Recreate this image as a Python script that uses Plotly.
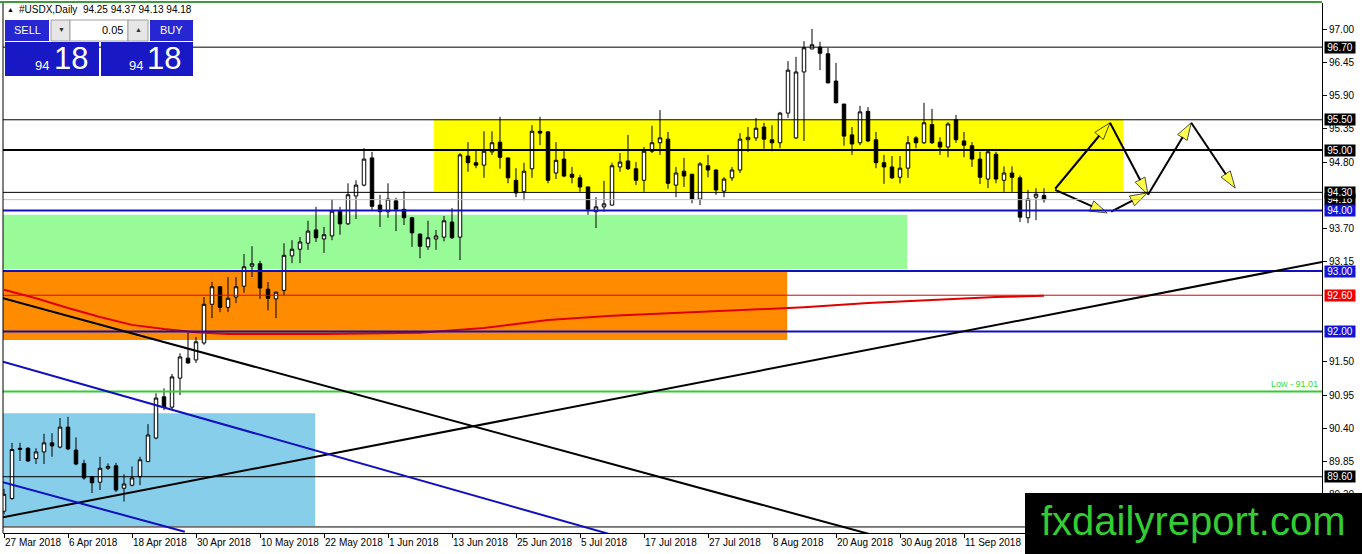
import plotly.graph_objects as go
import pandas as pd

# ---------------- data ----------------
dates = pd.bdate_range("2018-03-27", periods=131)

opens = [
    89.03, 89.24, 90.05, 90.07, 89.90, 90.01, 90.16, 90.09, 90.42, 90.04,
    89.82, 89.60, 89.51, 89.74, 89.78, 89.41, 89.46, 89.60, 89.85, 90.24,
    90.92, 90.75, 91.23, 91.56, 91.53, 91.81, 92.45, 92.74, 92.40, 92.57,
    92.75, 93.08, 93.12, 92.70, 92.54, 92.68, 93.25, 93.36, 93.46, 93.68,
    93.53, 93.58, 93.99, 93.78, 94.24, 94.42, 94.87, 94.09, 93.98, 94.16,
    94.02, 93.88, 93.61, 93.40, 93.53, 93.56, 93.81, 93.56, 94.90, 94.79,
    94.75, 94.97, 95.13, 94.87, 94.50, 94.31, 94.69, 95.31, 95.30, 94.62,
    94.85, 94.60, 94.54, 94.39, 93.98, 94.06, 94.09, 94.72, 94.82, 94.69,
    94.50, 94.98, 95.12, 95.18, 94.42, 94.65, 94.60, 94.19, 94.74, 94.67,
    94.32, 94.54, 94.67, 95.17, 95.20, 95.38, 95.17, 95.12, 95.61, 95.20,
    96.29, 96.67, 96.70, 96.59, 96.14, 95.76, 95.25, 95.12, 95.64, 95.17,
    94.79, 94.72, 94.55, 94.70, 95.20, 95.12, 95.42, 95.13, 95.05, 95.50,
    95.15, 95.07, 94.85, 94.52, 94.93, 94.50, 94.62, 94.54, 93.88, 94.22,
    94.25]
highs = [
    89.40, 90.16, 90.16, 90.09, 90.07, 90.31, 90.32, 90.57, 90.59, 90.25,
    89.88, 89.61, 89.93, 89.82, 89.83, 89.64, 89.77, 89.93, 90.47, 90.98,
    91.06, 91.30, 91.64, 91.98, 91.91, 92.57, 92.82, 92.75, 92.90, 92.90,
    93.28, 93.41, 93.17, 92.82, 92.66, 93.46, 93.51, 93.56, 93.83, 94.06,
    93.73, 94.19, 94.06, 94.45, 94.50, 95.03, 94.97, 94.26, 94.45, 94.21,
    94.32, 93.89, 93.62, 93.83, 93.68, 93.91, 94.04, 94.95, 95.13, 95.00,
    95.31, 95.31, 95.55, 94.87, 94.70, 94.79, 95.41, 95.55, 95.31, 95.13,
    94.98, 94.72, 94.59, 94.39, 94.22, 94.49, 94.79, 94.95, 95.25, 94.80,
    95.05, 95.40, 95.66, 95.30, 94.72, 94.87, 94.60, 94.80, 94.92, 94.68,
    94.55, 94.72, 95.28, 95.38, 95.53, 95.45, 95.41, 95.63, 96.47, 96.54,
    96.80, 97.00, 96.79, 96.69, 96.44, 95.76, 95.38, 95.73, 95.71, 95.30,
    94.92, 94.90, 94.90, 95.23, 95.23, 95.78, 95.68, 95.21, 95.46, 95.58,
    95.30, 95.13, 94.97, 94.98, 94.97, 94.73, 94.73, 94.58, 94.34, 94.37,
    94.37]
lows = [
    88.98, 89.22, 89.86, 89.85, 89.81, 89.81, 89.93, 90.07, 90.04, 89.79,
    89.55, 89.33, 89.38, 89.71, 89.35, 89.19, 89.44, 89.46, 89.85, 90.22,
    90.70, 90.70, 90.95, 91.47, 91.48, 91.78, 92.22, 92.32, 92.32, 92.47,
    92.64, 92.90, 92.54, 92.35, 92.22, 92.60, 93.13, 93.13, 93.35, 93.48,
    93.30, 93.51, 93.60, 93.76, 93.86, 94.40, 94.01, 93.73, 93.88, 93.66,
    93.76, 93.40, 93.21, 93.35, 93.35, 93.49, 93.53, 93.18, 94.64, 94.70,
    94.54, 94.92, 94.69, 94.45, 94.22, 94.17, 94.54, 95.08, 94.45, 94.52,
    94.55, 94.45, 94.31, 93.93, 93.71, 93.98, 94.08, 94.64, 94.67, 94.42,
    94.31, 94.95, 94.92, 94.36, 94.22, 94.39, 94.12, 94.09, 94.55, 94.26,
    94.22, 94.49, 94.62, 94.97, 95.15, 95.02, 94.98, 95.03, 95.53, 95.18,
    95.15, 96.67, 96.32, 96.10, 95.78, 95.07, 94.92, 95.08, 95.13, 94.70,
    94.44, 94.52, 94.45, 94.54, 95.03, 95.10, 95.10, 94.92, 94.88, 95.12,
    94.88, 94.72, 94.44, 94.37, 94.45, 94.31, 94.31, 93.81, 93.79, 93.84,
    94.13]
closes = [
    89.31, 90.05, 90.07, 89.86, 90.01, 90.16, 90.11, 90.42, 90.06, 89.81,
    89.58, 89.50, 89.74, 89.77, 89.38, 89.48, 89.58, 89.88, 90.29, 90.90,
    90.75, 91.25, 91.58, 91.48, 91.83, 92.45, 92.74, 92.40, 92.55, 92.74,
    93.07, 93.12, 92.72, 92.55, 92.65, 93.26, 93.36, 93.48, 93.66, 93.55,
    93.60, 93.99, 93.78, 94.26, 94.42, 94.85, 94.07, 93.98, 94.19, 94.02,
    93.88, 93.63, 93.41, 93.55, 93.58, 93.83, 93.55, 94.92, 94.79, 94.75,
    94.98, 95.12, 94.88, 94.54, 94.29, 94.65, 95.31, 95.28, 94.50, 94.83,
    94.57, 94.55, 94.39, 94.02, 94.06, 94.11, 94.74, 94.80, 94.69, 94.50,
    94.98, 95.12, 95.20, 94.45, 94.62, 94.57, 94.19, 94.77, 94.67, 94.34,
    94.52, 94.67, 95.18, 95.21, 95.36, 95.18, 95.12, 95.61, 96.32, 96.29,
    96.69, 96.74, 96.60, 96.11, 95.78, 95.23, 95.10, 95.63, 95.15, 94.79,
    94.72, 94.54, 94.70, 95.12, 95.12, 95.45, 95.12, 95.05, 95.43, 95.17,
    95.08, 94.85, 94.55, 94.97, 94.52, 94.62, 94.55, 93.89, 94.19, 94.27,
    94.18]
bar_index = list(range(len(opens)))

tick_bars = [0, 8, 16, 24, 32, 40, 48, 56, 64, 72, 80, 88, 96, 104, 112, 120]
tick_labels = ["27 Mar 2018", "6 Apr 2018", "18 Apr 2018", "30 Apr 2018",
               "10 May 2018", "22 May 2018", "1 Jun 2018", "13 Jun 2018",
               "25 Jun 2018", "5 Jul 2018", "17 Jul 2018", "27 Jul 2018",
               "8 Aug 2018", "20 Aug 2018", "30 Aug 2018", "11 Sep 2018"]
# price scale (94.25, 92.60 and 92.05 are hidden under the level labels)
price_ticks = [97.00, 96.45, 95.90, 95.35, 94.80, 93.70, 93.15,
               91.50, 90.95, 90.40, 89.85, 89.30]

# moving average (red) sampled along the chart
ma_bars = [0, 4, 8, 12, 16, 20, 24, 28, 40, 52, 60, 68, 76, 84, 92, 100, 108, 116, 124, 130]
ma_values = [92.69, 92.55, 92.39, 92.24, 92.11, 92.04, 91.99, 91.96, 91.96, 91.98,
             92.06, 92.19, 92.26, 92.31, 92.36, 92.40, 92.47, 92.52, 92.57, 92.59]

# horizontal levels
level_prices = [96.70, 95.50, 95.00, 94.30, 94.18, 94.00, 93.00, 92.60, 92.00, 91.01, 89.60, 88.77]
low_label = "Low - 91.01"

# zones (rectangles)
zone_x0 = [-1, -1, -1, 53.75]
zone_x1 = [38.9, 97.9, 112.9, 139.9]
zone_low = [88.785, 91.86, 93.03, 94.32]
zone_high = [90.65, 93.00, 93.93, 95.50]

# trend lines
trend_x0 = [-0.125, -0.125, -0.125, -0.125]
trend_y0 = [88.93, 92.55, 91.50, 89.51]
trend_x1 = [164.75, 108.25, 75.75, 22.6]
trend_y1 = [93.15, 88.65, 88.65, 88.69]

# projection arrows
arrow_x0 = [131.4, 138.25, 143.0, 148.4, 131.4, 138.4]
arrow_y0 = [94.36, 95.45, 94.26, 95.45, 94.34, 93.98]
arrow_x1 = [138.25, 143.0, 148.4, 153.9, 137.9, 142.9]
arrow_y1 = [95.45, 94.26, 95.45, 94.37, 93.96, 94.29]

header = "#USDX,Daily  94.25 94.37 94.13 94.18"

# ---------------- styles ----------------
FONT = "Liberation Sans, DejaVu Sans, Arial"
BLUE = "#1010c0"
LBLUE = "#1414d8"
level_style = {
    96.70: ("black", 1), 95.50: ("black", 1), 95.00: ("black", 2), 94.30: ("black", 1),
    94.18: ("#c0c0c0", 1), 94.00: (BLUE, 2), 93.00: (BLUE, 2), 92.60: ("#e00000", 1),
    92.00: (BLUE, 2), 91.01: ("#33cc33", 2), 89.60: ("black", 1), 88.77: ("black", 1),
}
zone_colors = ["#87ceeb", "#ff8c00", "#98fb98", "#ffff00"]
trend_colors = ["black", "black", BLUE, BLUE]
label_order = [(96.70, "black"), (95.50, "black"), (95.00, "black"), (94.18, "black"),
               (94.30, "black"), (94.00, LBLUE), (93.00, LBLUE), (92.60, "#ee0000"),
               (92.00, LBLUE), (89.60, "black")]

W, H = 1362, 554
ML, MR, MT, MB = 3, 40, 3, 21
PW, PH = W - ML - MR, H - MT - MB


def px(x):
    return (x - ML) / PW


def py(y):
    return 1 - (y - MT) / PH


fig = go.Figure()

fig.add_trace(go.Candlestick(
    x=bar_index, open=opens, high=highs, low=lows, close=closes,
    increasing=dict(line=dict(color="black", width=1), fillcolor="white"),
    decreasing=dict(line=dict(color="black", width=1), fillcolor="black"),
    whiskerwidth=0, hoverinfo="skip", showlegend=False))

fig.add_trace(go.Scatter(x=ma_bars, y=ma_values, mode="lines",
                         line=dict(color="#e00000", width=2), hoverinfo="skip"))

for xa, ya, xb, yb in zip(arrow_x0, arrow_y0, arrow_x1, arrow_y1):
    fig.add_trace(go.Scatter(
        x=[xa, xb], y=[ya, yb], mode="lines+markers",
        line=dict(color="black", width=2),
        marker=dict(symbol="arrow", size=[0, 18], angleref="previous",
                    color="#ffff00", line=dict(color="black", width=1)),
        hoverinfo="skip", cliponaxis=False))

shapes = []
for x0, x1, lo, hi, c in zip(zone_x0, zone_x1, zone_low, zone_high, zone_colors):
    shapes.append(dict(type="rect", xref="x", yref="y", x0=x0, x1=x1, y0=lo, y1=hi,
                       fillcolor=c, line=dict(width=0), layer="below"))
for p in level_prices:
    c, w = level_style[p]
    shapes.append(dict(type="line", xref="paper", yref="y", x0=0, x1=1, y0=p, y1=p,
                       line=dict(color=c, width=w), layer="above"))
for xa, ya, xb, yb, c in zip(trend_x0, trend_y0, trend_x1, trend_y1, trend_colors):
    shapes.append(dict(type="line", xref="x", yref="y", x0=xa, y0=ya, x1=xb, y1=yb,
                       line=dict(color=c, width=2), layer="above"))
# borders
shapes.append(dict(type="line", xref="paper", yref="paper", x0=0, x1=0, y0=0, y1=1,
                   line=dict(color="black", width=1), layer="above"))
shapes.append(dict(type="line", xref="paper", yref="paper", x0=px(0), x1=1, y0=py(2), y1=py(2),
                   line=dict(color="#3c9c3c", width=2), layer="above"))


def prect(x0, y0, x1, y1, fill, line=None):
    shapes.append(dict(type="rect", xref="paper", yref="paper",
                       x0=px(x0), x1=px(x1), y0=py(y1), y1=py(y0),
                       fillcolor=fill, line=dict(width=1 if line else 0, color=line or fill),
                       layer="above"))


# one-click trading panel
prect(5, 42, 99, 76, "#1818c4")
prect(101, 42, 193, 76, "#1818c4")
prect(5, 20, 49, 41, "#2626d2")
prect(150, 20, 193, 41, "#2626d2")
prect(51, 20, 70, 41, "#e6e6e6", "#a0a0a0")
prect(70, 20, 128, 41, "white", "#a0a0a0")
prect(128, 20, 148, 41, "#e6e6e6", "#a0a0a0")
# watermark box
prect(1025, 493, 1362, 554, "black")

annotations = []
for p, c in label_order:
    annotations.append(dict(xref="paper", yref="y", x=1, y=p, xanchor="left", yanchor="middle",
                            xshift=2, text=f"{p:.2f}", showarrow=False, bgcolor=c, borderpad=0,
                            width=30, height=11, align="center",
                            font=dict(family=FONT, size=10, color="white")))
annotations.append(dict(xref="paper", yref="y", x=1, y=91.01, xanchor="right", yanchor="bottom",
                        xshift=-2, text=low_label, showarrow=False,
                        font=dict(family=FONT, size=9, color="#33dd33")))


def ptext(x, y, text, size, color, anchor="center", family=FONT):
    annotations.append(dict(xref="paper", yref="paper", x=px(x), y=py(y), text=text,
                            showarrow=False, xanchor=anchor, yanchor="middle",
                            font=dict(family=family, size=size, color=color)))


ptext(5, 10, "▲", 7, "black", "left")
ptext(17, 10, header, 10, "black", "left")
ptext(27, 30, "SELL", 11, "white")
ptext(171, 30, "BUY", 11, "white")
ptext(61, 30, "▼", 7, "#303030")
ptext(138, 30, "▲", 7, "#303030")
ptext(125, 30, "0.05", 11, "black", "right")
ptext(42, 66, "94", 13, "white")
ptext(71, 59, "18", 31, "white")
ptext(136, 66, "94", 13, "white")
ptext(164, 59, "18", 31, "white")
ptext(1193, 521, "fxdailyreport.com", 40, "#33cc33", "center", "Liberation Sans, Arial")

fig.update_layout(
    width=W, height=H, margin=dict(l=ML, r=MR, t=MT, b=MB, autoexpand=False),
    paper_bgcolor="white", plot_bgcolor="white", showlegend=False,
    boxgap=0.38, shapes=shapes, annotations=annotations,
    xaxis=dict(range=[-0.125, 164.75], showgrid=False, zeroline=False, automargin=False,
               showline=True, linecolor="black", linewidth=1,
               ticks="outside", ticklen=4, tickcolor="black", tickangle=0,
               tickvals=tick_bars, ticktext=tick_labels,
               ticklabelposition="outside right",
               tickfont=dict(family=FONT, size=10, color="black"),
               rangeslider=dict(visible=False), fixedrange=True),
    yaxis=dict(range=[88.67, 97.43], side="right", showgrid=False, zeroline=False, automargin=False,
               showline=True, linecolor="black", linewidth=1,
               ticks="outside", ticklen=4, tickcolor="black",
               tickvals=price_ticks, ticktext=[f"{v:.2f}" for v in price_ticks],
               tickfont=dict(family=FONT, size=10, color="black"), fixedrange=True),
)

fig.write_html("out.html", config={"displayModeBar": False},
               post_script="document.body.style.margin='0';document.body.style.overflow='hidden';")
